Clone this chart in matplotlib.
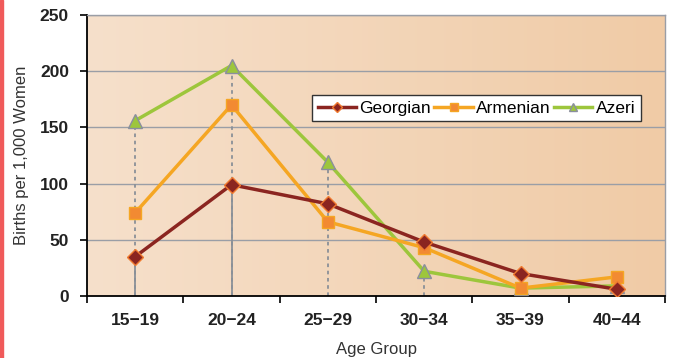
import matplotlib
matplotlib.use("Agg")
import matplotlib.pyplot as plt
import numpy as np
from matplotlib.colors import LinearSegmentedColormap
from matplotlib.patches import Rectangle

plt.rcParams['font.family'] = ['Liberation Sans', 'DejaVu Sans']

age_groups = ["15\u221219", "20\u221224", "25\u221229", "30\u221234", "35\u221239", "40\u221244"]
georgian = [35, 99, 82, 48, 20, 6]
armenian = [74, 170, 66, 43, 7, 17]
azeri = [156, 205, 119, 22, 7, 9]

fig = plt.figure(figsize=(6.77, 3.58), dpi=100)
ax = fig.add_axes([87 / 677, 62 / 358, 578 / 677, 281 / 358])

# red stripe on the left edge of the page
fig.patches.append(Rectangle((0, 0), 3 / 677, 1, transform=fig.transFigure,
                             color="#f05a5a", zorder=0))

x = np.arange(len(age_groups))

# peach gradient behind the plot
cmap = LinearSegmentedColormap.from_list("peach", ["#f6e0cb", "#f0cba6"])
grad = np.linspace(0, 1, 256).reshape(1, -1)
ax.imshow(grad, cmap=cmap, aspect="auto", extent=[0, 1, 0, 1],
          transform=ax.transAxes, zorder=0)

ax.set_xlim(-0.5, len(age_groups) - 0.5)
ax.set_ylim(0, 250)

for yv in [50, 100, 150, 200, 250]:
    ax.axhline(yv, color="#9a9ea6", lw=1, zorder=1)

# drop lines
ax.vlines(x[:2], 0, [georgian[0], georgian[1]], color="#8a9098", lw=1.3, zorder=2)
ax.vlines(x[:4], 0, azeri[:4], color="#8a9098", lw=1.3, linestyles=(0, (2, 2)), zorder=2)

ax.plot(x, georgian, color="#8b2520", lw=2.5, marker="D", ms=8,
        mfc="#8b2520", mec="#f07a30", mew=1, label="Georgian", zorder=5)
ax.plot(x, armenian, color="#f5a623", lw=2.5, marker="s", ms=9,
        mfc="#f28a32", mec="#f5a623", mew=1, label="Armenian", zorder=4)
ax.plot(x, azeri, color="#9dc63c", lw=2.5, marker="^", ms=10,
        mfc="#9dc63c", mec="#8a8e9e", mew=1, label="Azeri", zorder=3)

ax.set_xticks(x)
ax.set_xticklabels(age_groups, fontsize=12.5, fontweight="bold", color="#222222")
ax.set_xticks(np.arange(-0.5, len(age_groups)), minor=True)
ax.tick_params(axis="x", which="major", length=0, pad=12)
ax.tick_params(axis="x", which="minor", length=5, width=1.2, direction="out")
ax.set_yticks([0, 50, 100, 150, 200, 250])
ax.set_yticklabels(["0", "50", "100", "150", "200", "250"], fontsize=12.5,
                   fontweight="bold", color="#222222")
ax.tick_params(axis="y", length=5, width=1.2, direction="out", pad=8)

for side in ["top", "right"]:
    ax.spines[side].set_color("#9a9ea6")
    ax.spines[side].set_linewidth(1)
ax.spines["left"].set_linewidth(1.3)
ax.spines["bottom"].set_linewidth(1.3)

ax.set_ylabel("Births per 1,000 Women", fontsize=12, color="#333333", labelpad=8)
ax.set_xlabel("Age Group", fontsize=12, color="#333333", labelpad=10)

leg = ax.legend(loc="upper left", bbox_to_anchor=(0.375, 0.745), ncol=3,
                frameon=True, fancybox=False, fontsize=12.5, handlelength=2.2,
                handletextpad=0.2, columnspacing=0.2, borderpad=0.3,
                markerscale=0.6)
leg.get_frame().set_edgecolor("#333333")
leg.get_frame().set_linewidth(1)
leg.get_frame().set_facecolor("white")
leg.get_frame().set_alpha(1)

fig.savefig("out.png", dpi=100)
